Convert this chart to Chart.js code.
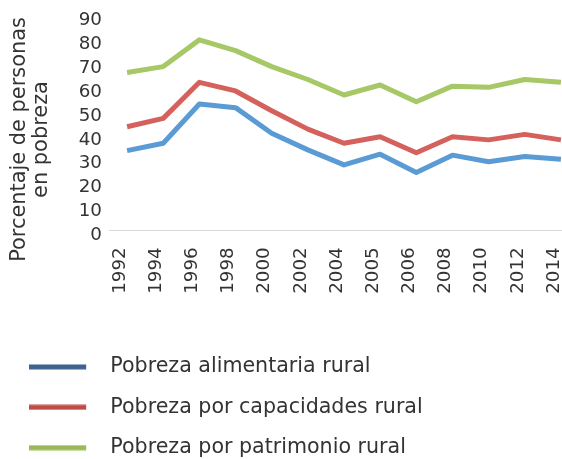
<!DOCTYPE html>
<html>
<head>
<meta charset="utf-8">
<script src="https://cdn.jsdelivr.net/npm/chart.js@4/dist/chart.umd.min.js"></script>
<style>
  html, body { margin: 0; padding: 0; background: #fff; overflow: hidden; }
  #wrap { width: 580px; height: 468px; position: relative; }
</style>
</head>
<body>
<div id="wrap"><canvas id="c" width="580" height="468"></canvas></div>
<script>
const years = ['1992','1994','1996','1998','2000','2002','2004','2005','2006','2008','2010','2012','2014'];
const alimentaria = [33.6, 36.7, 53.1, 51.6, 40.9, 33.9, 27.6, 32.1, 24.4, 31.7, 28.9, 31.1, 30.0];
const capacidades = [43.6, 47.1, 62.2, 58.6, 50.3, 42.6, 36.7, 39.4, 32.7, 39.4, 38.1, 40.4, 38.1];
const patrimonio = [66.3, 68.8, 80.0, 75.5, 68.8, 63.4, 56.9, 61.1, 54.1, 60.6, 60.1, 63.4, 62.2];
const seriesNames = ['Pobreza alimentaria rural', 'Pobreza por capacidades rural', 'Pobreza por patrimonio rural'];
const yMin = 0, yMax = 90, yStep = 10;
const yTitle = ['Porcentaje de personas', 'en pobreza'];

const lineColors = ['#5b9bd5', '#d4615c', '#a6c866'];
const legendColors = ['#3d6391', '#be4d49', '#98b955'];
const FONT = '"DejaVu Sans", Verdana, sans-serif';
const TEXT = '#333333';

function swatch(color) {
  const c = document.createElement('canvas');
  c.width = 71; c.height = 6;
  const g = c.getContext('2d');
  g.fillStyle = color;
  g.fillRect(0, 0.5, 57, 5);
  return c;
}
const swatches = legendColors.map(swatch);

const yTitlePlugin = {
  id: 'yTitle',
  afterDraw(chart) {
    const ctx = chart.ctx;
    ctx.save();
    ctx.fillStyle = TEXT;
    ctx.font = '20.9px ' + FONT;
    ctx.textAlign = 'center';
    ctx.textBaseline = 'alphabetic';
    ctx.translate(25, 139.5);
    ctx.rotate(-Math.PI / 2);
    ctx.fillText(yTitle[0], 0, 0);
    ctx.fillText(yTitle[1], 0, 21.7);
    ctx.restore();
  }
};

const datasets = [alimentaria, capacidades, patrimonio].map((d, i) => ({
  label: seriesNames[i],
  data: d,
  borderColor: lineColors[i],
  backgroundColor: lineColors[i],
  borderWidth: 5,
  pointRadius: 0,
  tension: 0,
  borderJoinStyle: 'round',
  borderCapStyle: 'butt',
  fill: false
}));

new Chart(document.getElementById('c'), {
  type: 'line',
  data: { labels: years, datasets: datasets },
  options: {
    responsive: false,
    animation: false,
    events: [],
    layout: { padding: { left: 9.5, right: 1, top: 16, bottom: 0 } },
    plugins: {
      tooltip: { enabled: false },
      legend: {
        display: true,
        position: 'bottom',
        align: 'start',
        labels: {
          font: { family: FONT, size: 20.6 },
          color: TEXT,
          padding: 19.8,
          usePointStyle: true,
          pointStyleWidth: 70.7,
          generateLabels(chart) {
            return chart.data.datasets.map((ds, i) => ({
              text: ds.label,
              pointStyle: swatches[i],
              fillStyle: legendColors[i],
              strokeStyle: legendColors[i],
              lineWidth: 0,
              hidden: false,
              datasetIndex: i,
              fontColor: TEXT
            }));
          }
        }
      }
    },
    scales: {
      x: {
        offset: true,
        grid: { display: false, drawTicks: false },
        border: { display: true, color: '#d9d9d9', width: 1 },
        ticks: {
          font: { family: FONT, size: 18.3 },
          color: TEXT,
          minRotation: 90,
          maxRotation: 90,
          padding: 16.5,
          labelOffset: -7,
          autoSkip: false
        },
        afterFit(scale) {
          scale.height = 106;
          scale.paddingLeft = 0;
          scale.paddingRight = 0;
        }
      },
      y: {
        min: yMin,
        max: yMax,
        grid: { display: false, drawTicks: false },
        border: { display: false },
        ticks: {
          stepSize: yStep,
          autoSkip: false,
          font: { family: FONT, size: 18.3 },
          color: TEXT,
          padding: 7,
          labelOffset: 4.5
        },
        afterFit(scale) {
          scale.width = 99.5;
          scale.paddingTop = 0;
          scale.paddingBottom = 0;
        }
      }
    }
  },
  plugins: [yTitlePlugin]
});
</script>
</body>
</html>
